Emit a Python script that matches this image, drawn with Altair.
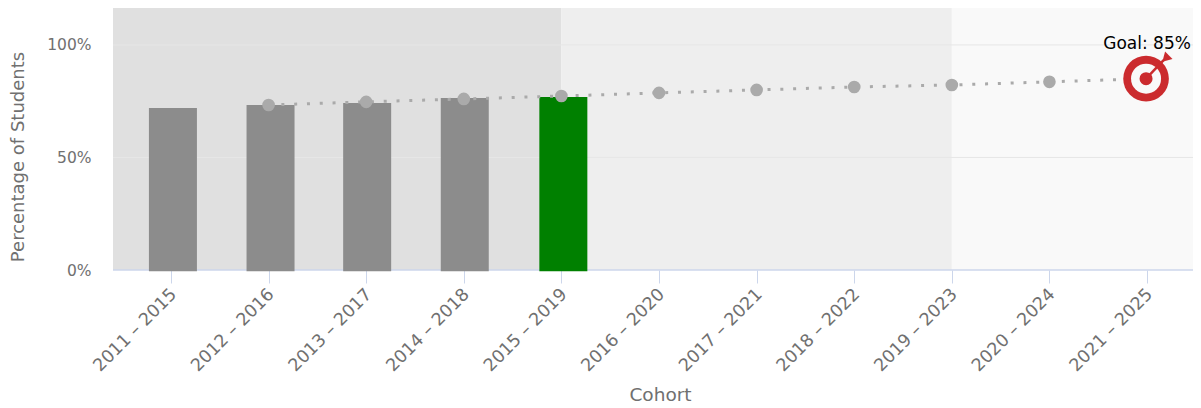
import altair as alt
import pandas as pd

cohorts = ["2011 – 2015", "2012 – 2016", "2013 – 2017", "2014 – 2018", "2015 – 2019", "2016 – 2020",
           "2017 – 2021", "2018 – 2022", "2019 – 2023", "2020 – 2024", "2021 – 2025"]
bar_index = [0.02, 1.02, 2.01, 3.01, 4.02]
bar_values = [72, 73.3, 74.2, 76.4, 76.9]
bar_colors = ["#8c8c8c", "#8c8c8c", "#8c8c8c", "#8c8c8c", "#008000"]
target_index = [1, 2, 3, 4, 5, 6, 7, 8, 9]
target_values = [73.3, 74.7, 76, 77.3, 78.7, 80, 81.3, 82.2, 83.6]
goal_index = 10
goal_value = 85

X_MIN, X_MAX = -0.594, 10.471
Y_MAX = 116.4
FONT = "DejaVu Sans"

bars = pd.DataFrame({"i": bar_index, "v": bar_values, "c": bar_colors, "b": -0.6})
line_df = pd.DataFrame({"i": target_index + [goal_index], "v": target_values + [goal_value]})
pts_df = pd.DataFrame({"i": target_index, "v": target_values})
regions = pd.DataFrame({"a": [X_MIN, 4, 8], "b": [4, 8, X_MAX], "c": ["#e0e0e0", "#eeeeee", "#f9f9f9"]})
grid_df = pd.DataFrame({"v": [50, 100]})
base_df = pd.DataFrame({"v": [0]})

x_scale = alt.Scale(domain=[X_MIN, X_MAX], nice=False, zero=False, padding=0)
y_scale = alt.Scale(domain=[0, Y_MAX], nice=False, padding=0)
x_axis = alt.Axis(values=list(range(11)),
                  labelExpr="[" + ",".join(f"'{c}'" for c in cohorts) + "][datum.value]",
                  labelAngle=-45, labelAlign="right", labelBaseline="top", labelFontSize=17.5,
                  labelColor="#707070", labelFont=FONT, labelPadding=2, labelOffset=-4, labelOverlap=False,
                  labelBound=False, labelFlush=False,
                  tickColor="#ccd6eb", tickSize=13, domain=False, grid=False,
                  titleFontSize=18.5, titleColor="#707070", titleFont=FONT,
                  titleFontWeight="normal", titlePadding=11, titleX=547, titleAnchor="middle")
y_axis = alt.Axis(values=[0, 50, 100], labelExpr="datum.value + '%'", labelFontSize=15.5,
                  labelColor="#707070", labelFont=FONT, labelPadding=22, ticks=False,
                  domain=False, grid=False, labelBound=False,
                  titleFontSize=18, titleColor="#707070", titleFont=FONT,
                  titleFontWeight="normal", titlePadding=19, titleY=148.5)


def X(field):
    return alt.X(field, title="Cohort", scale=x_scale, axis=x_axis)


def Y(field):
    return alt.Y(field, title="Percentage of Students", scale=y_scale, axis=y_axis)


region_layer = alt.Chart(regions).mark_rect().encode(x=X("a:Q"), x2="b:Q", color=alt.Color("c:N", scale=None))
grid_layer = alt.Chart(grid_df).mark_rule(color="#e6e6e6", size=1).encode(y=Y("v:Q"))
base_layer = alt.Chart(base_df).mark_rule(color="#ccd6eb", size=1.5).encode(y=Y("v:Q"))
bar_layer = alt.Chart(bars).mark_bar(width=48, clip=False).encode(x=X("i:Q"), y=Y("v:Q"), y2="b:Q", color=alt.Color("c:N", scale=None))
line_layer = alt.Chart(line_df).mark_line(color="#aaaaaa", strokeWidth=3, strokeDash=[3, 9.8]).encode(x=X("i:Q"), y=Y("v:Q"))
pt_layer = alt.Chart(pts_df).mark_point(filled=True, color="#aaaaaa", size=160, opacity=1).encode(x=X("i:Q"), y=Y("v:Q"))

goal_df = pd.DataFrame({"i": [goal_index - 0.01], "v": [goal_value]})
outer = alt.Chart(goal_df).mark_point(filled=True, color="#cb2b2e", size=2080, opacity=1).encode(x=X("i:Q"), y=Y("v:Q"))
white = alt.Chart(goal_df).mark_point(filled=True, color="#f9f9f9", size=900, opacity=1).encode(x=X("i:Q"), y=Y("v:Q"))
inner = alt.Chart(goal_df).mark_point(filled=True, color="#cb2b2e", size=170, opacity=1).encode(x=X("i:Q"), y=Y("v:Q"))
arrow_df = pd.DataFrame({"i": [9.99, 10.17], "v": [85.0, 93.2]})
arrow = alt.Chart(arrow_df).mark_line(color="#cb2b2e", strokeWidth=2.5).encode(x=X("i:Q"), y=Y("v:Q"))
tip_df = pd.DataFrame({"i": [10.19], "v": [94.0]})
tip = alt.Chart(tip_df).mark_point(filled=True, color="#cb2b2e", size=110, opacity=1, shape="triangle-down", angle=45).encode(x=X("i:Q"), y=Y("v:Q"))
label_df = pd.DataFrame({"i": [10.0], "v": [100.5], "t": ["Goal: 85%"]})
label = alt.Chart(label_df).mark_text(font=FONT, fontSize=17, fontWeight=500, color="#000000").encode(x=X("i:Q"), y=Y("v:Q"), text="t:N")

chart = alt.layer(region_layer, grid_layer, base_layer, bar_layer, line_layer, pt_layer,
                  outer, white, inner, arrow, tip, label).resolve_scale(color="independent").properties(
    width=1080, height=262,
    padding={"left": 105, "top": 0, "right": 0, "bottom": 136},
    autosize=alt.AutoSizeParams(type="none"),
).configure_view(stroke=None)

chart.save("out.html", embed_options={"renderer": "svg", "actions": False})
